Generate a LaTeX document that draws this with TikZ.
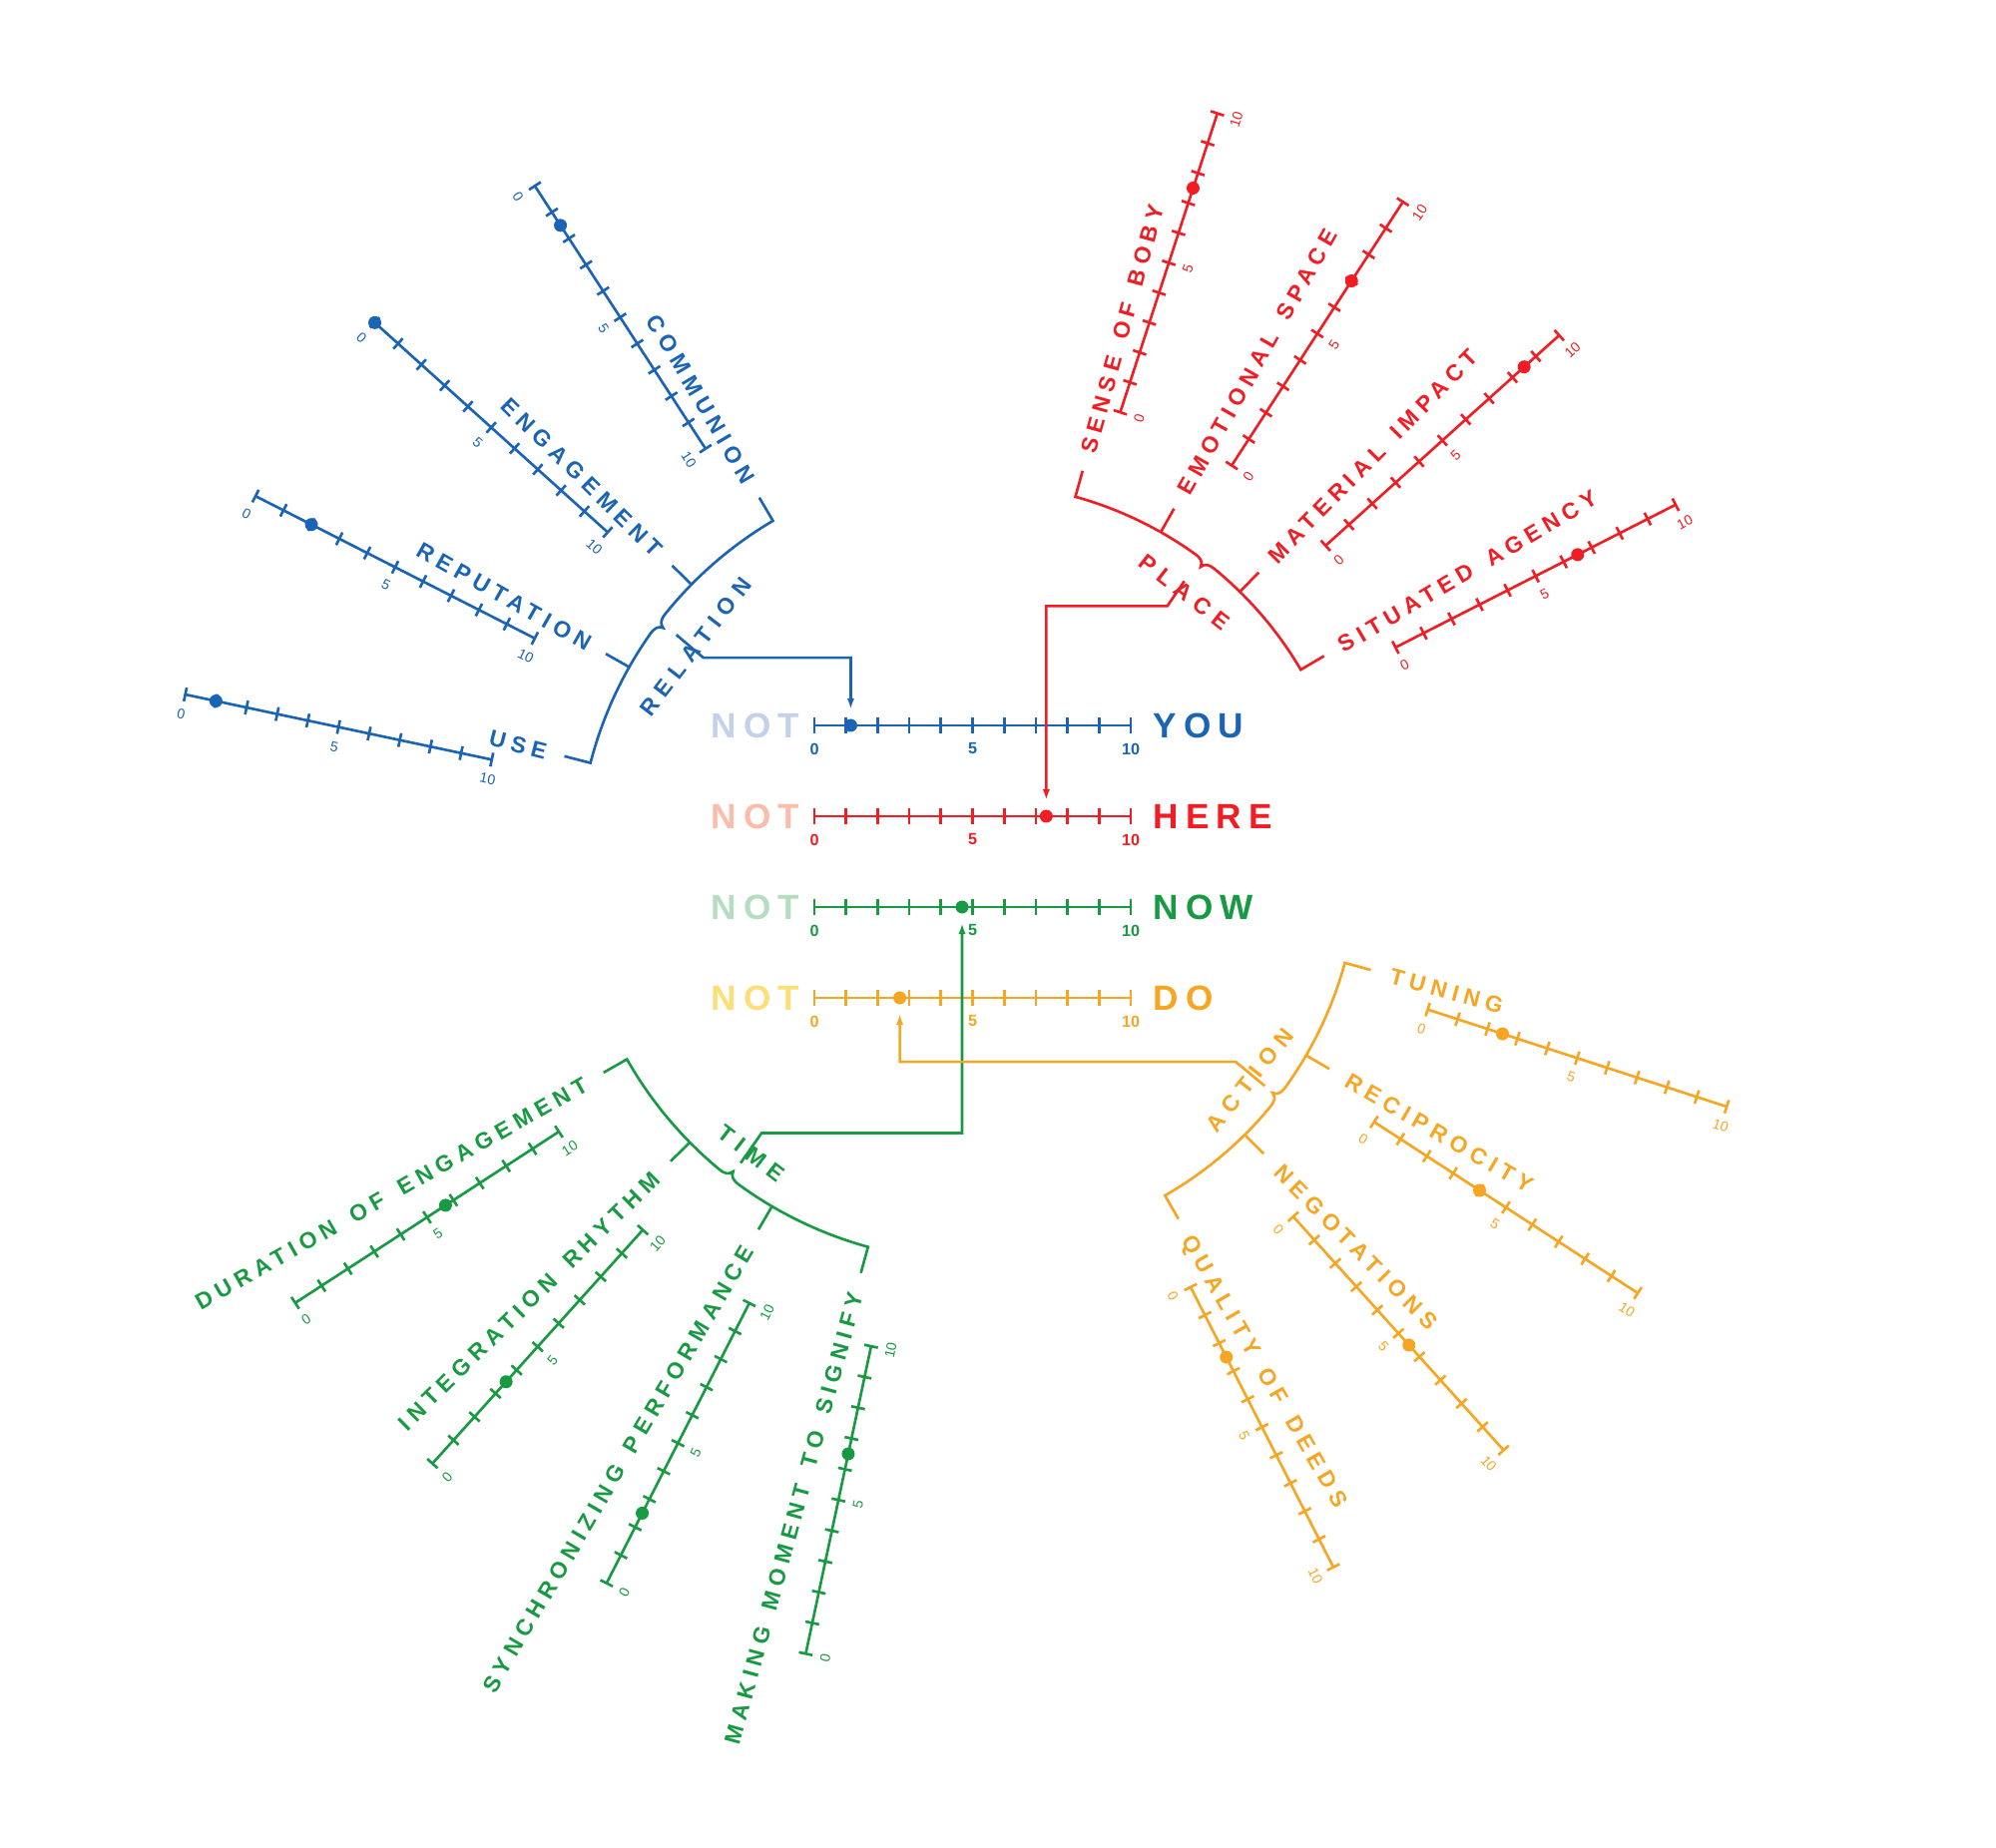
\documentclass[tikz,border=0pt]{standalone}
\usepackage{fontspec}
\setmainfont{Liberation Sans}
\newfontfamily\bigfont{Liberation Sans}[LetterSpace=20]
\newfontfamily\lblfont{Liberation Sans}[LetterSpace=25,WordSpace=1.5]
\newfontfamily\grpfont{Liberation Sans}[LetterSpace=33]
\usetikzlibrary{calc,arrows.meta}

\definecolor{cblue}{HTML}{1A63B5}
\definecolor{cbluel}{HTML}{C3D1EA}
\definecolor{cred}{HTML}{F01D24}
\definecolor{credl}{HTML}{F9BDAA}
\definecolor{cgreen}{HTML}{179A42}
\definecolor{cgreenl}{HTML}{B5DDC1}
\definecolor{corange}{HTML}{F6A623}
\definecolor{corangel}{HTML}{FCDF78}

\tikzset{
  ln/.style={line width=0.75pt},
  dotnode/.style={circle, inner sep=0pt, minimum size=0.13cm, draw=none},
  bigword/.style={font=\bigfont\bfseries\fontsize{10}{12}\selectfont, inner sep=0pt, text height=7.16pt, text depth=0pt},
  cnum/.style={font=\bfseries\fontsize{4.6}{5}\selectfont, inner sep=0pt},
  brnum/.style={font=\fontsize{4}{5}\selectfont, inner sep=0pt},
  brlabel/.style={font=\lblfont\bfseries\fontsize{6.5}{7}\selectfont, inner sep=0pt, text height=4.66pt, text depth=0pt},
  grplabel/.style={font=\grpfont\bfseries\fontsize{6.5}{7}\selectfont, inner sep=0pt, text height=4.66pt, text depth=0pt},
  conn/.style={line width=0.75pt, -{Latex[length=0.11cm,width=0.075cm]}, shorten >=0.09cm},
}

% central axis: id, colour, y, dot value
\newcommand\centeraxis[4]{%
  \draw[ln,#2] (-160,#3) -- (157,#3);
  \foreach \v in {0,...,10}{\draw[ln,#2] ({-160+\v*31.7},{#3+8}) -- ({-160+\v*31.7},{#3-8});}
  \foreach \v in {0,5,10}{\node[cnum,text=#2] (#1-n\v) at ({-160+\v*31.7},{#3-23.5}) {\v};}
  \node[dotnode,fill=#2] (#1-dot) at ({-160+#4*31.7},#3) {};
}

% branch scale: id, colour, angle, r at 0, step, dot value, number side (+90/-90), number rotation
\newcommand\brscale[8]{%
  \draw[ln,#2] (#3:#4) -- (#3:{#4+10*(#5)});
  \foreach \v in {0,...,10}{%
    \draw[ln,#2] ($(#3:{#4+\v*(#5)})+({#3+90}:7)$) -- ($(#3:{#4+\v*(#5)})+({#3-90}:7)$);
  }
  \foreach \v in {0,5,10}{%
    \node[brnum,text=#2,rotate=#8] (#1-n\v) at ($(#3:{#4+\v*(#5)})+({#3#7}:20)$) {\v};
  }
  \node[dotnode,fill=#2] (#1-dot) at (#3:{#4+#6*(#5)}) {};
}

% bracket: colour, radius, start angle, end angle
\newcommand\bracketarc[4]{%
  \pgfmathsetmacro\bm{(#3+#4)/2}
  \pgfmathsetmacro\bma{\bm-1.8}
  \pgfmathsetmacro\bmb{\bm+1.8}
  \pgfmathsetmacro\bmc{\bm-0.7}
  \pgfmathsetmacro\bmd{\bm-0.2}
  \pgfmathsetmacro\bme{\bm+0.2}
  \pgfmathsetmacro\bmf{\bm+0.7}
  \draw[ln,#1] (#3:{#2+27}) -- (#3:#2) arc[start angle=#3, end angle=\bma, radius=#2]
    .. controls (\bmc:#2) and (\bmd:{#2-2}) .. (\bm:{#2-7})
    .. controls (\bme:{#2-2}) and (\bmf:#2) .. (\bmb:#2)
    arc[start angle=\bmb, end angle=#4, radius=#2] -- (#4:{#2+27});
  \draw[ln,#1] ({#3+15}:#2) -- ({#3+15}:{#2+27});
  \draw[ln,#1] ({#3+30}:#2) -- ({#3+30}:{#2+27});
}

\begin{document}
\begin{tikzpicture}[x=0.01cm,y=0.01cm]
\fill[white] (-976,-988) rectangle (1024,864);

% ---------- central scales ----------
\centeraxis{you}{cblue}{137}{1.15}
\centeraxis{here}{cred}{46}{7.33}
\centeraxis{now}{cgreen}{-45}{4.67}
\centeraxis{do}{corange}{-136}{2.7}

\node[bigword,text=cbluel,anchor=east] (not1) at (-174,137) {NOT};
\node[bigword,text=credl,anchor=east] (not2) at (-174,46) {NOT};
\node[bigword,text=cgreenl,anchor=east] (not3) at (-174,-45) {NOT};
\node[bigword,text=corangel,anchor=east] (not4) at (-174,-136) {NOT};
\node[bigword,text=cblue,anchor=west] (wyou) at (179,137) {YOU};
\node[bigword,text=cred,anchor=west] (where) at (179,46) {HERE};
\node[bigword,text=cgreen,anchor=west] (wnow) at (179,-45) {NOW};
\node[bigword,text=corange,anchor=west] (wdo) at (179,-136) {DO};

% ---------- RELATION (blue) ----------
\bracketarc{cblue}{397}{120.5}{165.5}
\brscale{use}{cblue}{168}{808}{-31.4}{1}{+90}{-12}
\brscale{rep}{cblue}{153}{808}{-31.4}{2}{+90}{-27}
\brscale{eng}{cblue}{138}{808}{-31.4}{0}{+90}{-42}
\brscale{com}{cblue}{123}{808}{-31.4}{1.5}{+90}{-57}
\node[brlabel,text=cblue,anchor=east,rotate=-14.5] (use-lab) at (165.5:442) {USE};
\node[brlabel,text=cblue,anchor=east,rotate=-29.5] (rep-lab) at (150.5:442) {REPUTATION};
\node[brlabel,text=cblue,anchor=east,rotate=-44.5] (eng-lab) at (135.5:442) {ENGAGEMENT};
\node[brlabel,text=cblue,anchor=east,rotate=-59.5] (com-lab) at (120.5:442) {COMMUNION};
\node[grplabel,text=cblue,rotate=52.5] (rel) at (142.3:353) {RELATION};

% ---------- PLACE (red) ----------
\bracketarc{cred}{380}{30.5}{74.5}
\brscale{sob}{cred}{72}{474}{31.5}{7.5}{-90}{72}
\brscale{ems}{cred}{57}{474}{31.5}{7}{-90}{57}
\brscale{mat}{cred}{42}{474}{31.5}{8.5}{-90}{42}
\brscale{sit}{cred}{27}{474}{31.5}{6.5}{-90}{27}
\node[brlabel,text=cred,anchor=west,rotate=74.5] (sob-lab) at (74.5:425) {SENSE OF BOBY};
\node[brlabel,text=cred,anchor=west,rotate=60.5] (ems-lab) at (60.5:425) {EMOTIONAL SPACE};
\node[brlabel,text=cred,anchor=west,rotate=45.5] (mat-lab) at (45.5:425) {MATERIAL IMPACT};
\node[brlabel,text=cred,anchor=west,rotate=30.5] (sit-lab) at (30.5:425) {SITUATED AGENCY};
\node[grplabel,text=cred,rotate=-38] (plc) at (52.1:343) {PLACE};

% ---------- TIME (green) ----------
\bracketarc{cgreen}{400}{209.6}{254.6}
\brscale{dur}{cgreen}{213}{811}{-31.5}{5.7}{+90}{33}
\brscale{int}{cgreen}{228}{811}{-31.5}{3.5}{+90}{48}
\brscale{syn}{cgreen}{243}{811}{-31.5}{2.5}{+90}{63}
\brscale{mak}{cgreen}{258}{811}{-31.5}{6.5}{+90}{78}
\node[brlabel,text=cgreen,anchor=east,rotate=29.6] (dur-lab) at (209.6:447) {DURATION OF ENGAGEMENT};
\node[brlabel,text=cgreen,anchor=east,rotate=44.6] (int-lab) at (224.6:447) {INTEGRATION RHYTHM};
\node[brlabel,text=cgreen,anchor=east,rotate=59.6] (syn-lab) at (239.6:447) {SYNCHRONIZING PERFORMANCE};
\node[brlabel,text=cgreen,anchor=east,rotate=74.6] (mak-lab) at (254.6:447) {MAKING MOMENT TO SIGNIFY};
\node[grplabel,text=cgreen,rotate=-37.4] (tim) at (232.6:367) {TIME};

% ---------- ACTION (orange) ----------
\bracketarc{corange}{385}{299.8}{344.8}
\brscale{tun}{corange}{342}{478}{31.5}{2.5}{-90}{-18}
\brscale{rec}{corange}{327}{478}{31.5}{4}{-90}{-33}
\brscale{neg}{corange}{312}{478}{31.5}{5.5}{-90}{-48}
\brscale{qua}{corange}{297}{478}{31.5}{2.5}{-90}{-63}
\node[brlabel,text=corange,anchor=west,rotate=-15.2] (tun-lab) at (344.8:432) {TUNING};
\node[brlabel,text=corange,anchor=west,rotate=-30.2] (rec-lab) at (329.8:432) {RECIPROCITY};
\node[brlabel,text=corange,anchor=west,rotate=-45.2] (neg-lab) at (314.8:432) {NEGOTATIONS};
\node[brlabel,text=corange,anchor=west,rotate=-60.2] (qua-lab) at (299.8:432) {QUALITY OF DEEDS};
\node[grplabel,text=corange,rotate=51.7] (act) at (321.7:352) {ACTION};

% ---------- connectors ----------
\draw[conn,cblue] ([shift={(-19,12)}]rel.center) -- ++(27,-23) -| (you-dot);
\draw[conn,cred] ([shift={(0,11)}]plc.center) -- ++(-17,-25) -| (here-dot);
\draw[conn,cgreen] ([shift={(-11,-10)}]tim.center) -- ++(21,30) -| (now-dot);
\draw[conn,corange] ([shift={(15,-6)}]act.center) -- ++(-29,24) -| (do-dot);
\end{tikzpicture}
\end{document}
